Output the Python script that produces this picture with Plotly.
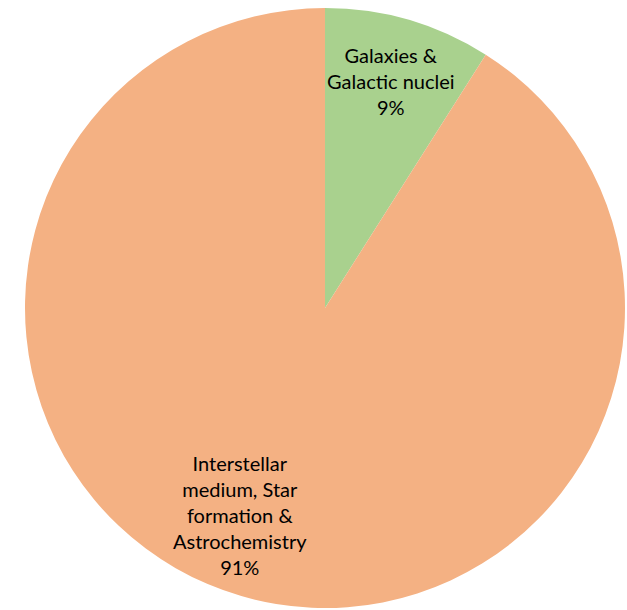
import plotly.graph_objects as go

labels = ["Galaxies &<br>Galactic nuclei", "Interstellar<br>medium, Star<br>formation &<br>Astrochemistry"]
values = [9, 91]
colors = ["#A9D18E", "#F4B183"]
pct_labels = ["9%", "91%"]

fig = go.Figure(go.Pie(
    labels=labels, values=values, sort=False, direction="clockwise", rotation=0,
    marker=dict(colors=colors, line=dict(width=0)),
    textinfo="none", hoverinfo="label+percent", showlegend=False,
    domain=dict(x=[25/627, 625/627], y=[2/610, 602/610]),
))

label_pos = [(391, 81), (240, 515)]
for lab, pct, (px, py) in zip(labels, pct_labels, label_pos):
    fig.add_annotation(
        x=px/627, y=1-py/610, xref="paper", yref="paper",
        text=lab + "<br>" + pct, showarrow=False,
        font=dict(family="Lato, Open Sans, sans-serif", size=20, color="black"),
        align="center", xanchor="center", yanchor="middle",
    )

fig.update_layout(width=627, height=610, margin=dict(l=0, r=0, t=0, b=0),
                  paper_bgcolor="white", plot_bgcolor="white")
fig.write_html("out.html", config={"displayModeBar": False})

with open("out.html", "r", encoding="utf-8") as f:
    html = f.read()
html = html.replace("<head>", "<head><style>html,body{margin:0;padding:0;overflow:hidden;}</style>", 1)
with open("out.html", "w", encoding="utf-8") as f:
    f.write(html)
